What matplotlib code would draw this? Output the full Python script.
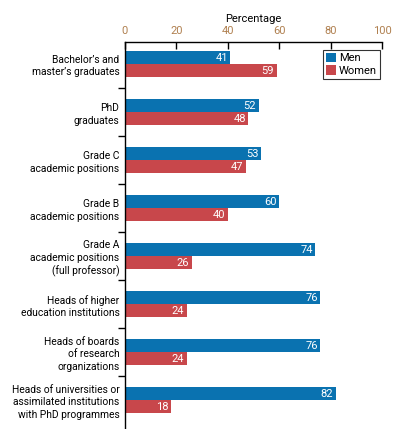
import matplotlib.pyplot as plt
import numpy as np

plt.rcParams['font.family'] = ['Roboto', 'DejaVu Sans']

categories = [
    "Bachelor’s and\nmaster’s graduates",
    "PhD\ngraduates",
    "Grade C\nacademic positions",
    "Grade B\nacademic positions",
    "Grade A\nacademic positions\n(full professor)",
    "Heads of higher\neducation institutions",
    "Heads of boards\nof research\norganizations",
    "Heads of universities or\nassimilated institutions\nwith PhD programmes",
]
men = [41, 52, 53, 60, 74, 76, 76, 82]
women = [59, 48, 47, 40, 26, 24, 24, 18]

blue = "#0a72b0"
red = "#c8474b"

fig = plt.figure(figsize=(3.99, 4.29), dpi=100)
ax = fig.add_axes([125 / 399, 0.0, 257 / 399, 1 - 42 / 429])

y = np.arange(len(categories))
h = 0.27
ax.barh(y - h / 2, men, height=h, color=blue, label="Men")
ax.barh(y + h / 2, women, height=h, color=red, label="Women")

for yi, m, w in zip(y, men, women):
    ax.text(m - 1, yi - h / 2, str(m), color="white", ha="right", va="center", fontsize=8)
    ax.text(w - 1, yi + h / 2, str(w), color="white", ha="right", va="center", fontsize=8)

ax.set_xlim(0, 100)
ax.set_ylim(len(categories) - 1 + 0.6, -0.46)
ax.xaxis.set_ticks_position("top")
ax.xaxis.set_label_position("top")
ax.set_xticks(np.arange(0, 101, 20))
ax.tick_params(axis="x", direction="in", length=5, width=1, colors="black",
               labelcolor="#b08050", labelsize=8, pad=4)
ax.set_xlabel("Percentage", fontsize=8, labelpad=3)

ax.set_yticks(y)
ax.set_yticklabels(categories, fontsize=7.4, linespacing=1.3)
ax.tick_params(axis="y", which="major", length=0, pad=4)
ax.set_yticks(np.arange(0.5, len(categories) - 0.5, 1), minor=True)
ax.tick_params(axis="y", which="minor", length=5, width=1, direction="out")

for s in ["right", "bottom"]:
    ax.spines[s].set_visible(False)
ax.spines["left"].set_linewidth(1)
ax.spines["top"].set_linewidth(1)

leg = ax.legend(loc="upper right", bbox_to_anchor=(1.0, 0.985), fontsize=8,
                frameon=True, fancybox=False, handlelength=0.9, handleheight=0.9,
                handletextpad=0.3, borderpad=0.25, labelspacing=0.2, borderaxespad=0.2)
leg.get_frame().set_edgecolor("black")
leg.get_frame().set_linewidth(0.8)

plt.savefig("out.png", dpi=100)
